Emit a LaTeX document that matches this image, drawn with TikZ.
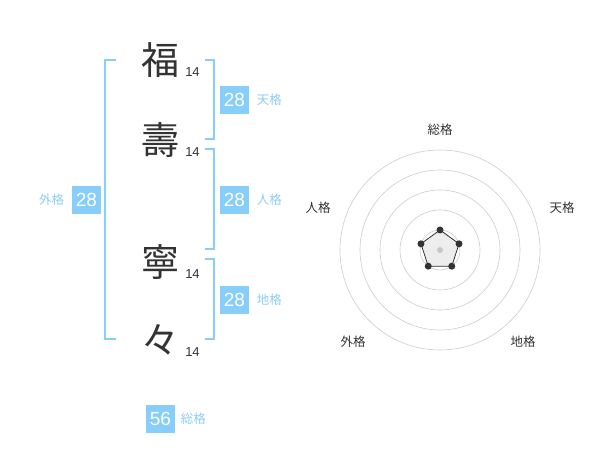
\documentclass[tikz,border=0pt]{standalone}
\usepackage{fontspec}
\usetikzlibrary{positioning,calc}
\setmainfont{Liberation Sans}
\newfontfamily\jpfont{Noto Sans CJK JP}
\definecolor{kakublue}{HTML}{87CEFA}
\definecolor{kakutext}{HTML}{8DCCF7}
\definecolor{inkgray}{HTML}{333333}
\definecolor{ringgray}{HTML}{CCCCCC}

\begin{document}
\begin{tikzpicture}[x=1pt,y=-1pt,line width=0.8pt,
  kanji/.style={font=\jpfont\fontsize{38}{38}\selectfont,text=inkgray,inner sep=0pt},
  strokes/.style={font=\fontsize{13}{13}\selectfont,text=inkgray,inner sep=0pt},
  numbox/.style={fill=kakublue,text=white,minimum width=29pt,minimum height=28pt,
    inner sep=0pt,font=\fontsize{19}{19}\selectfont},
  kakulabel/.style={text=kakutext,font=\jpfont\fontsize{12.5}{12.5}\selectfont,inner sep=0pt},
  bracket/.style={draw=kakublue,line width=2pt},
  axislabel/.style={text=inkgray,font=\jpfont\fontsize{12.5}{12.5}\selectfont,inner sep=0pt}]
\useasboundingbox (0,0) rectangle (600,470);
\def\rx{440}
\def\ry{250}
% ================= name column =================
\foreach \ch/\y [count=\i] in {福/60,壽/140,寧/262,々/340}{
  \node[kanji] (ch\i) at (160,\y) {\ch};
  \node[strokes] (st\i) at (192.5,\y+12) {14};
}
% brackets
\draw[bracket] (116,60) -- (105,60) -- (105,339) -- (116,339);
\draw[bracket] (205,60) -- (214,60) -- (214,139) -- (205,139);
\draw[bracket] (205,149) -- (214,149) -- (214,249) -- (205,249);
\draw[bracket] (205,259) -- (214,259) -- (214,339) -- (205,339);
% ================= totals =================
\node[numbox] (ten) at (234.5,100) {28};
\node[kakulabel,right=7pt of ten] (tenl) {天格};
\node[numbox] (jin) at (234.5,200) {28};
\node[kakulabel,right=7pt of jin] (jinl) {人格};
\node[numbox] (chi) at (234.5,300) {28};
\node[kakulabel,right=7pt of chi] (chil) {地格};
\node[numbox] (gai) at (86.5,200) {28};
\node[kakulabel,left=7pt of gai] (gail) {外格};
\node[numbox] (sou) at (160.5,419) {56};
\node[kakulabel,right=5pt of sou] (soul) {総格};
% ================= radar =================
\foreach \r in {20,40,60,80,100}
  \draw[ringgray,line width=0.6pt] (\rx,\ry) circle (\r);
\foreach \a/\lab/\lx/\ly [count=\i] in {-90/総格/440/130,-18/天格/562/208,
    54/地格/523/342,126/外格/353/342,198/人格/318/208}{
  \coordinate (v\i) at ($(\rx,\ry)+(\a:20)$);
  \node[axislabel] (ax\i) at (\lx,\ly) {\lab};
}
\draw[inkgray,fill=black!7] (v1) -- (v2) -- (v3) -- (v4) -- (v5) -- cycle;
\foreach \i in {1,...,5}
  \fill[inkgray] (v\i) circle (3.5);
\fill[black!22] (\rx,\ry) circle (3);
\end{tikzpicture}
\end{document}
